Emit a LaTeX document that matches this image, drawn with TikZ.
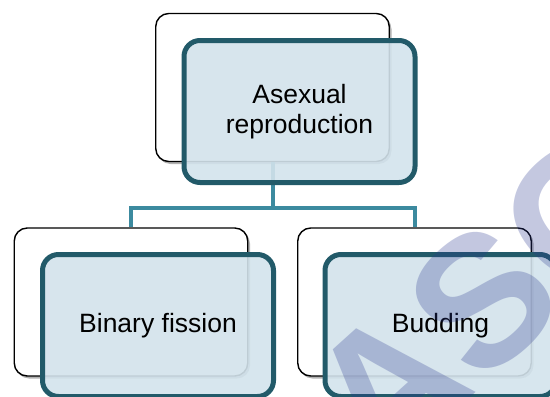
\documentclass[tikz,border=0pt]{standalone}
\usepackage{fontspec}
\setmainfont{Liberation Sans}
\definecolor{frontfill}{HTML}{D3E3EC}
\definecolor{frontdraw}{HTML}{225A69}
\definecolor{linkcol}{HTML}{3C8A9F}
\definecolor{wmcol}{HTML}{2B3990}
\tikzset{
  backbox/.style={draw=black, line width=1.4pt, fill=white, rounded corners=13pt,
    minimum width=233.5pt, minimum height=148pt, inner sep=0pt},
  shadowbox/.style={fill=black, opacity=0.3, rounded corners=13pt,
    minimum width=234pt, minimum height=148pt, inner sep=0pt},
  frontbox/.style={draw=frontdraw, line width=5pt, fill=frontfill, fill opacity=0.9,
    text opacity=1, rounded corners=16pt, minimum width=231pt, minimum height=142pt,
    inner sep=0pt, align=center, font=\fontsize{26.5}{30}\selectfont},
  link/.style={draw=linkcol, line width=4pt},
  wmark/.style={text=wmcol, opacity=0.28, rotate=42,
    font=\fontsize{185}{185}\selectfont\bfseries}
}
\begin{document}
\begin{tikzpicture}[x=1pt,y=-1pt]
\useasboundingbox (0,0) rectangle (550,397);
\begin{scope}
\clip (0,0) rectangle (550,397);
% shadows
\node[shadowbox] (topsh) at (274.5,90) {};
\node[shadowbox] (leftsh) at (133,304.5) {};
\node[shadowbox] (rightsh) at (416.5,304.5) {};
% back boxes
\node[backbox] (topback) at (272.5,87.5) {};
\node[backbox] (leftback) at (131,302) {};
\node[backbox] (rightback) at (414.5,302) {};
% connectors
\coordinate (bus) at (0,208);
\draw[link] (topback.south) -- (topback.south |- bus) -| (leftback.north);
\draw[link] (topback.south |- bus) -| (rightback.north);
% front boxes
\node[frontbox] (topfront) at (299.5,111.5) {Asexual\\reproduction};
\node[frontbox] (leftfront) at (158,325.5) {Binary fission};
\node[frontbox] (rightfront) at (440.5,325.5) {Budding};
% watermark
\node[wmark] (wm) at (483,300) {ASC};
\end{scope}
\end{tikzpicture}
\end{document}
